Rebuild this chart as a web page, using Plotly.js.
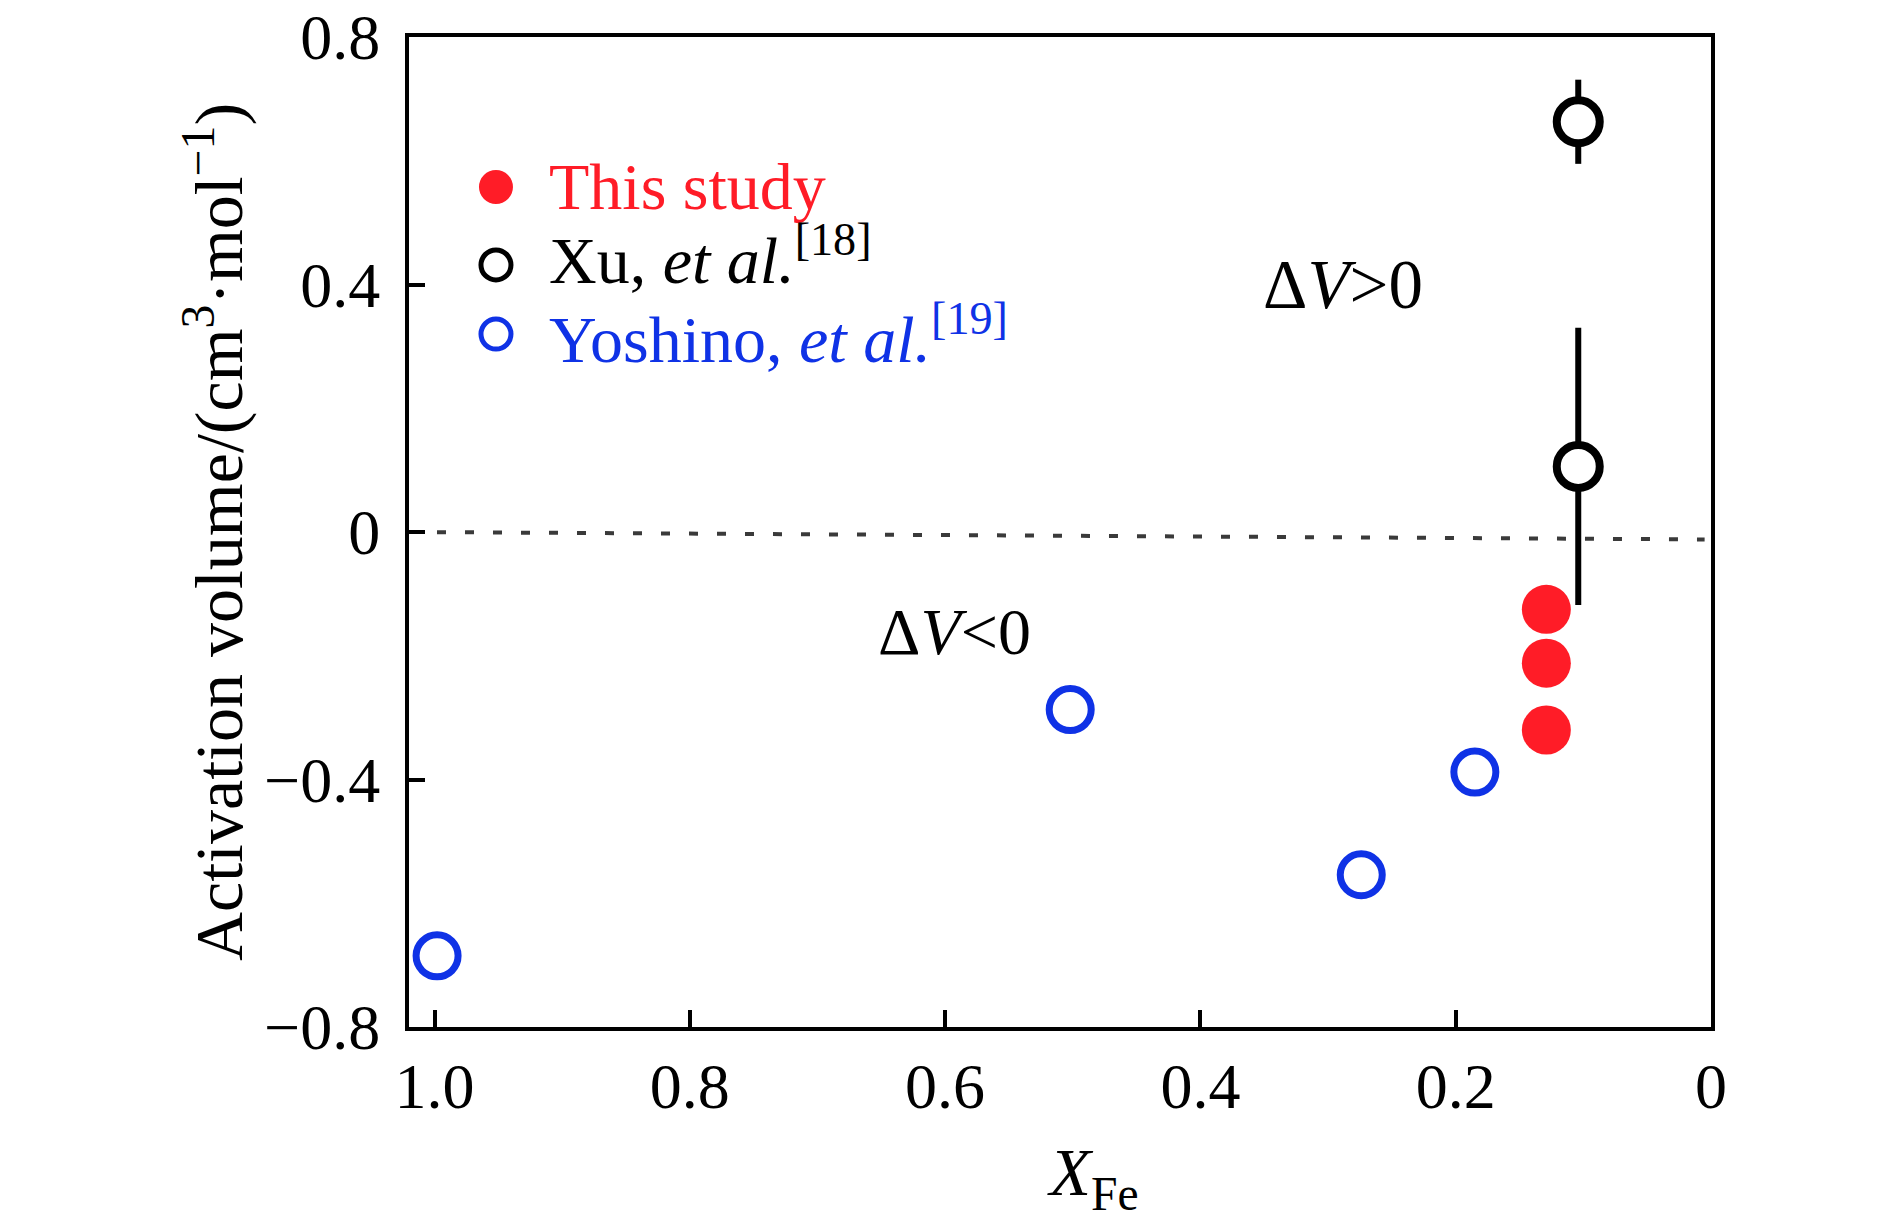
<!DOCTYPE html>
<html>
<head>
<meta charset="utf-8">
<script src="https://cdn.plot.ly/plotly-3.0.1.min.js"></script>
<style>html,body{margin:0;padding:0;background:#fff;}#chart{width:1890px;height:1229px;}</style>
</head>
<body>
<div id="chart"></div>
<script>
// ---- data ----
var thisStudyX = [0.129, 0.129, 0.129];
var thisStudyY = [-0.125, -0.212, -0.320];

var xuX = [0.104, 0.104];
var xuY = [0.663, 0.106];
var xuErr = [0.068, 0.224];

var yoshinoX = [0.998, 0.502, 0.274, 0.185];
var yoshinoY = [-0.685, -0.287, -0.554, -0.388];

var zeroLineX = [1.02, 0.005];
var zeroLineY = [0.0, -0.012];

var xTickVals = [1.0, 0.8, 0.6, 0.4, 0.2, 0];
var xTickText = ['1.0', '0.8', '0.6', '0.4', '0.2', '0'];
var yTickVals = [0.8, 0.4, 0, -0.4, -0.8];
var yTickText = ['0.8', '0.4', '0', '\u22120.4', '\u22120.8'];

var legendNames = ['This study', 'Xu, <i>et al.</i><sup>[18]</sup>', 'Yoshino, <i>et al.</i><sup>[19]</sup>'];

// ---- styling ----
var RED = '#ff1c27', BLUE = '#0f32e6', BLACK = '#000000';
var FONT = 'Liberation Serif, Times New Roman, serif';

var traces = [
  {x: zeroLineX, y: zeroLineY, mode: 'lines', showlegend: false, hoverinfo: 'skip',
   line: {color: '#3a3a3a', width: 4, dash: '9px,19px'}},
  {x: yoshinoX, y: yoshinoY, mode: 'markers', name: 'Yoshino', showlegend: false,
   marker: {symbol: 'circle', size: 42, color: 'rgba(255,255,255,0)', line: {color: BLUE, width: 7}}},
  {x: thisStudyX, y: thisStudyY, mode: 'markers', name: 'This study', showlegend: false,
   marker: {symbol: 'circle', size: 49, color: RED, line: {width: 0}}},
  {x: xuX, y: xuY, mode: 'markers', name: 'Xu', showlegend: false,
   error_y: {type: 'data', array: xuErr, visible: true, color: BLACK, thickness: 6, width: 0},
   marker: {symbol: 'circle', size: 43, color: '#ffffff', line: {color: BLACK, width: 8}}}
];

var legColors = [RED, BLACK, BLUE];
var legMarkY = [0.8485, 0.7697, 0.6999];
var legTextY = [0.8485, 0.7797, 0.6999];
var legX = 0.0668, legTextX = 0.106;

var shapes = [];
var annotations = [];
for (var i = 0; i < legendNames.length; i++) {
  var filled = (i === 0);
  var r = filled ? 17 : 15;
  shapes.push({type: 'circle', xref: 'paper', yref: 'paper',
    xsizemode: 'pixel', ysizemode: 'pixel', xanchor: legX, yanchor: legMarkY[i],
    x0: -r, x1: r, y0: -r, y1: r,
    fillcolor: filled ? legColors[i] : 'rgba(0,0,0,0)',
    line: {color: legColors[i], width: filled ? 0 : 5}});
  annotations.push({xref: 'paper', yref: 'paper', x: legTextX, y: legTextY[i],
    xanchor: 'left', yanchor: 'middle', showarrow: false, text: legendNames[i],
    font: {family: FONT, size: 66, color: legColors[i]}});
}
annotations.push({x: 0.288, y: 0.40, xref: 'x', yref: 'y', showarrow: false,
  text: '\u0394<i>V</i>&gt;0', font: {family: FONT, size: 69, color: BLACK}});
annotations.push({x: 0.593, y: -0.161, xref: 'x', yref: 'y', showarrow: false,
  text: '\u0394<i>V</i>&lt;0', font: {family: FONT, size: 66, color: BLACK}});

var layout = {
  width: 1890, height: 1229,
  margin: {l: 409, r: 179, t: 37, b: 202},
  paper_bgcolor: '#ffffff', plot_bgcolor: '#ffffff',
  font: {family: FONT, color: BLACK},
  showlegend: false,
  xaxis: {
    range: [1.02, 0], tickvals: xTickVals, ticktext: xTickText,
    ticks: 'inside', ticklen: 17, tickwidth: 4, tickcolor: BLACK,
    showline: true, linewidth: 4, linecolor: BLACK, mirror: true,
    showgrid: false, zeroline: false,
    tickfont: {family: FONT, size: 64, color: BLACK},
    automargin: 'bottom',
    title: {text: '<span>\u00a0\u00a0\u00a0\u00a0</span><i>X</i><sub>Fe</sub>', font: {family: FONT, size: 68, color: BLACK}, standoff: 28}
  },
  yaxis: {
    range: [-0.8, 0.8], tickvals: yTickVals, ticktext: yTickText,
    ticks: 'inside', ticklen: 16, tickwidth: 4, tickcolor: BLACK,
    showline: true, linewidth: 4, linecolor: BLACK, mirror: true,
    showgrid: false, zeroline: false,
    tickfont: {family: FONT, size: 64, color: BLACK},
    ticklabelstandoff: 12,
    automargin: 'left',
    title: {text: 'Activation volume/(cm<sup>3</sup>\u00b7mol<sup>\u22121</sup>)', font: {family: FONT, size: 68, color: BLACK}, standoff: 0}
  },
  shapes: shapes,
  annotations: annotations
};

Plotly.newPlot('chart', traces, layout, {displayModeBar: false, staticPlot: true});
</script>
</body>
</html>
